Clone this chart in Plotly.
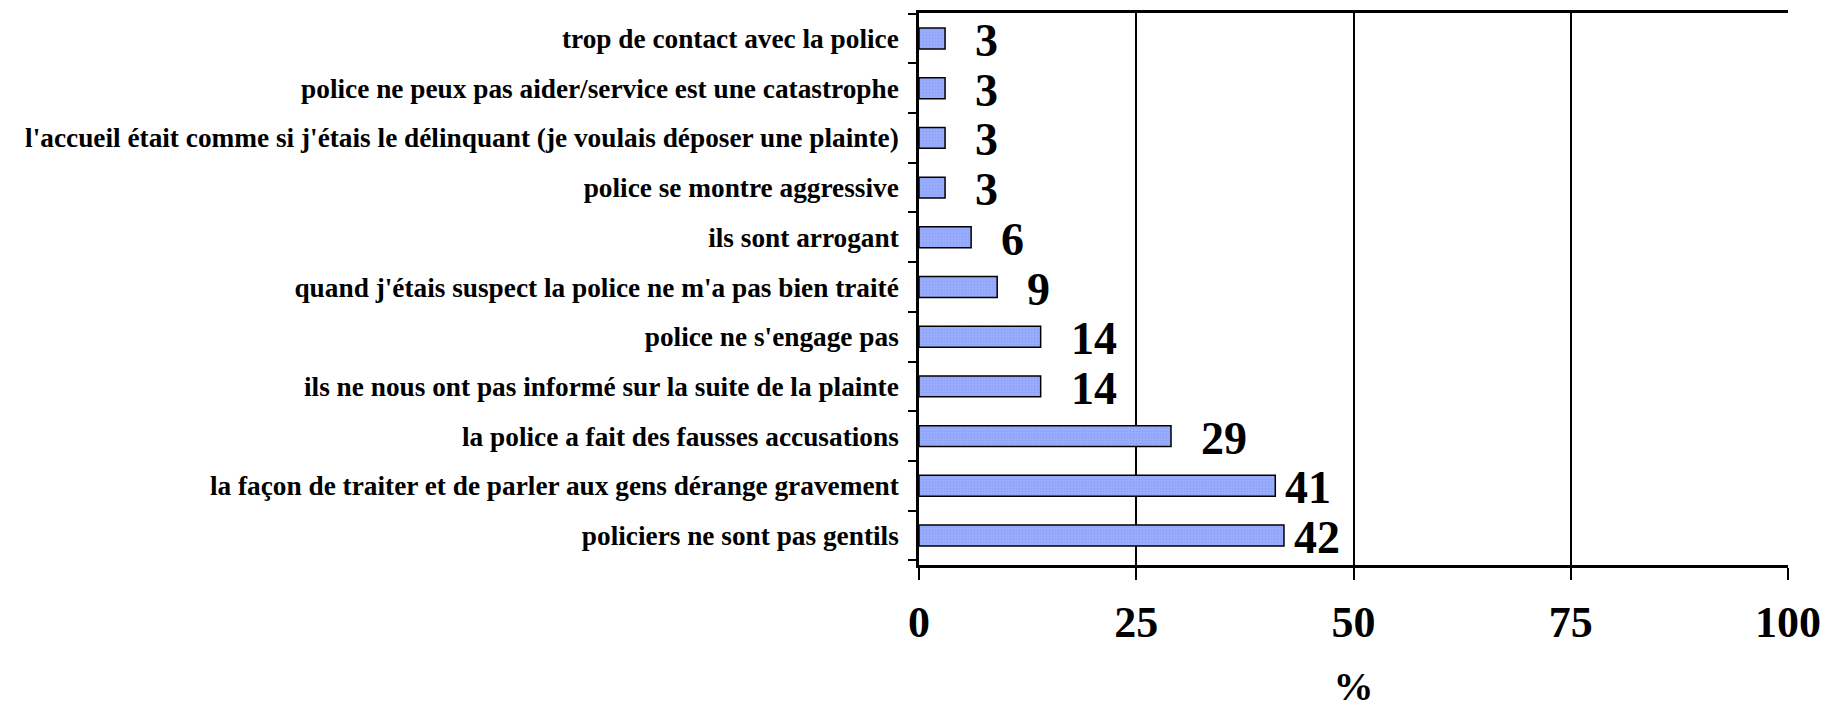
import plotly.graph_objects as go

# data, bottom to top
categories = [
    "policiers ne sont pas gentils",
    "la façon de traiter et de parler aux gens dérange gravement",
    "la police a fait des fausses accusations",
    "ils ne nous ont pas informé sur la suite de la plainte",
    "police ne s'engage pas",
    "quand j'étais suspect la police ne m'a pas bien traité",
    "ils sont arrogant",
    "police se montre aggressive",
    "l'accueil était comme si j'étais le délinquant (je voulais déposer une plainte)",
    "police ne peux pas aider/service est une catastrophe",
    "trop de contact avec la police",
]
values = [42, 41, 29, 14, 14, 9, 6, 3, 3, 3, 3]
x_ticks = [0, 25, 50, 75, 100]

serif = "Liberation Serif, Times New Roman, serif"

fig = go.Figure()
fig.add_trace(go.Bar(
    x=values,
    y=categories,
    orientation="h",
    width=0.42,
    marker=dict(
        color="#9aadff",
        line=dict(color="black", width=1.5),
        pattern=dict(shape=".", fgcolor="#7f93e6", size=3, solidity=0.3),
    ),
    hoverinfo="x+y",
))

# value labels to the right of each bar
for cat, v in zip(categories, values):
    fig.add_annotation(
        x=v, y=cat, text=str(v), showarrow=False,
        xanchor="left", xshift=28 if v < 40 else 8, yshift=-2,
        font=dict(family=serif, size=46, color="black", weight="bold"),
    )

fig.update_xaxes(
    range=[0, 100],
    tickvals=x_ticks,
    ticks="outside", ticklen=12, tickwidth=2, tickcolor="black",
    tickfont=dict(family=serif, size=44, color="black", weight="bold"),
    ticklabelstandoff=4,
    showgrid=True, gridcolor="black", gridwidth=1.5,
    showline=True, linecolor="black", linewidth=2.5, mirror=True,
    zeroline=False,
    automargin=False,
    title=dict(text="%", font=dict(family=serif, size=40, color="black", weight="bold"), standoff=54),
)
fig.update_yaxes(
    ticks="outside", ticklen=8, tickwidth=1.5, tickcolor="black",
    tickson="boundaries",
    tickfont=dict(family=serif, size=27.3, color="black", weight="bold"),
    ticklabelstandoff=12,
    showline=True, linecolor="black", linewidth=2.5,
    showgrid=False,
    automargin=False,
)

# page body adds an 8px offset, so the figure is 8px smaller than the window
fig.update_layout(
    width=1823, height=701,
    margin=dict(l=911, r=43, t=5, b=144),
    plot_bgcolor="white", paper_bgcolor="white",
    showlegend=False,
    bargap=0.58,
)

fig.write_html("out.html")
